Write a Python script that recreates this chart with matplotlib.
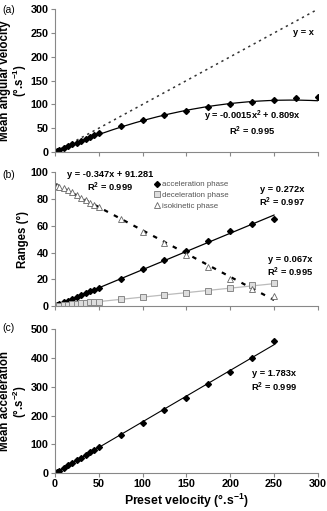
import numpy as np
import matplotlib
matplotlib.use("Agg")
import matplotlib.pyplot as plt

plt.rcParams['font.family'] = ['Liberation Sans', 'DejaVu Sans']
plt.rcParams['mathtext.fontset'] = 'custom'
plt.rcParams['mathtext.rm'] = 'Liberation Sans:bold'
plt.rcParams['mathtext.bf'] = 'Liberation Sans:bold'
plt.rcParams['mathtext.default'] = 'bf'

# ---- data ----
x_low = [2, 5, 10, 15, 20, 25, 30, 35, 40, 45, 50]
x_high = [75, 100, 125, 150, 175, 200, 225, 250]
x_a_high = [75, 100, 125, 150, 175, 200, 225, 250, 275, 300]

vel_low = [1.6, 4, 8, 12, 16, 20, 24, 28, 32, 36, 40]
vel_high = [55, 67, 78, 87, 94, 100, 105, 110, 113, 116]

acc_low = [0.5, 1.4, 2.7, 4.1, 5.4, 6.8, 8.2, 9.5, 10.9, 12.2, 13.6]
acc_high = [20, 28, 34.5, 41.5, 48.5, 56, 61.5, 65]
dec_low = [0.1, 0.3, 0.7, 1.0, 1.3, 1.7, 2.0, 2.3, 2.7, 3.0, 3.4]
dec_high = [5, 7, 8, 10, 11.5, 13.5, 15.5, 17.5]
iso_low = [90, 89, 88, 86.5, 85, 83, 81, 79, 77, 75.5, 74]
iso_high = [65, 55, 47, 38, 29, 20.5, 13, 7.5]

macc_low = [3.5, 9, 18, 27, 36, 45, 54, 63, 72, 80, 90]
macc_high = [133, 173, 220, 262, 308, 350, 400, 460]

xticks = [0, 50, 100, 150, 200, 250, 300]

fig = plt.figure(figsize=(3.27, 5.11), dpi=100)

def style(ax):
    for s in ['top', 'right']:
        ax.spines[s].set_visible(False)
    for s in ['left', 'bottom']:
        ax.spines[s].set_color('#888888')
        ax.spines[s].set_linewidth(0.8)
    ax.tick_params(direction='out', length=3, width=0.8, color='#888888',
                   labelsize=7.8, pad=1.5)
    for lab in ax.get_yticklabels() + ax.get_xticklabels():
        lab.set_fontweight('bold')
    ax.set_xlim(0, 300)
    ax.set_xticks(xticks)

LBL = dict(fontweight='bold', fontsize=8.3, linespacing=1.0)
TXT = dict(fontsize=6.7, fontweight='bold', ha='center', va='center')

L, W = 0.168, 0.804
# panel a
axa = fig.add_axes([L, 0.7025, W, 0.2795])
xa = np.array(x_low + x_a_high)
ya = np.array(vel_low + vel_high)
xx = np.linspace(0, 300, 300)
axa.plot(xx, xx, ls=(0, (1.5, 2.5)), color='#333333', lw=1.1)
axa.plot(xx, -0.0015 * xx**2 + 0.809 * xx, color='black', lw=0.9)
axa.plot(xa, ya, 'D', color='black', ms=3)
axa.set_ylim(0, 300)
axa.set_yticks([0, 50, 100, 150, 200, 250, 300])
axa.set_ylabel('Mean angular velocity\n(°.s$^{-1}$)', labelpad=1, **LBL)
style(axa)
axa.set_xticklabels([])
axa.text(283, 252, 'y = x', **TXT)
axa.text(225, 60, 'y = -0.0015x$^2$ + 0.809x\nR$^2$ = 0.995', multialignment='center',
         linespacing=1.05, **TXT)
fig.text(0.008, 0.98, '(a)', fontsize=7.5, va='center')

# panel b
axb = fig.add_axes([L, 0.401, W, 0.262])
xb = np.array(x_low + x_high)
xl = np.linspace(0, 250, 100)
axb.plot(xl, -0.347 * xl + 91.281, ls=(0, (2, 3)), color='black', lw=1.6)
axb.plot(xl, 0.272 * xl, color='black', lw=0.9)
axb.plot(xl, 0.067 * xl, color='#bbbbbb', lw=0.9)
axb.plot(xb, acc_low + acc_high, 'D', color='black', ms=3, label='acceleration phase')
axb.plot(xb, dec_low + dec_high, 's', mfc='#dddddd', mec='#888888', mew=0.7, ms=4, label='deceleration phase')
axb.plot(xb, iso_low + iso_high, '^', mfc='white', mec='#666666', mew=0.6, ms=4, label='isokinetic phase')
axb.set_ylim(0, 100)
axb.set_yticks([0, 20, 40, 60, 80, 100])
axb.set_ylabel('Ranges (°)', labelpad=1, **LBL)
style(axb)
axb.set_xticklabels([])
leg = axb.legend(loc='upper left', bbox_to_anchor=(0.38, 0.935), frameon=False, fontsize=5.7,
                 handlelength=0.6, handletextpad=0.3, labelspacing=0.4, borderaxespad=0,
                 borderpad=0)
for t in leg.get_texts():
    t.set_color('#555555')
axb.text(63, 98, 'y = -0.347x + 91.281', **TXT)
axb.text(63, 88.5, 'R$^2$ = 0.999', **TXT)
axb.text(259, 87, 'y = 0.272x', **TXT)
axb.text(259, 77.5, 'R$^2$ = 0.997', **TXT)
axb.text(268, 35, 'y = 0.067x', **TXT)
axb.text(268, 25, 'R$^2$ = 0.995', **TXT)
fig.text(0.008, 0.658, '(b)', fontsize=7.5, va='center')

# panel c
axc = fig.add_axes([L, 0.074, W, 0.282])
axc.plot(xl, 1.783 * xl, color='black', lw=0.8)
axc.plot(xb, macc_low + macc_high, 'D', color='black', ms=3)
axc.set_ylim(0, 500)
axc.set_yticks([0, 100, 200, 300, 400, 500])
axc.set_ylabel('Mean acceleration\n(°.s$^{-2}$)', labelpad=1, **LBL)
axc.set_xlabel('Preset velocity (°.s$^{-1}$)', fontweight='bold', fontsize=8.8, labelpad=2)
style(axc)
axc.text(250, 347, 'y = 1.783x', **TXT)
axc.text(250, 299, 'R$^2$ = 0.999', **TXT)
fig.text(0.008, 0.358, '(c)', fontsize=7.5, va='center')

fig.savefig('out.png', dpi=100)
